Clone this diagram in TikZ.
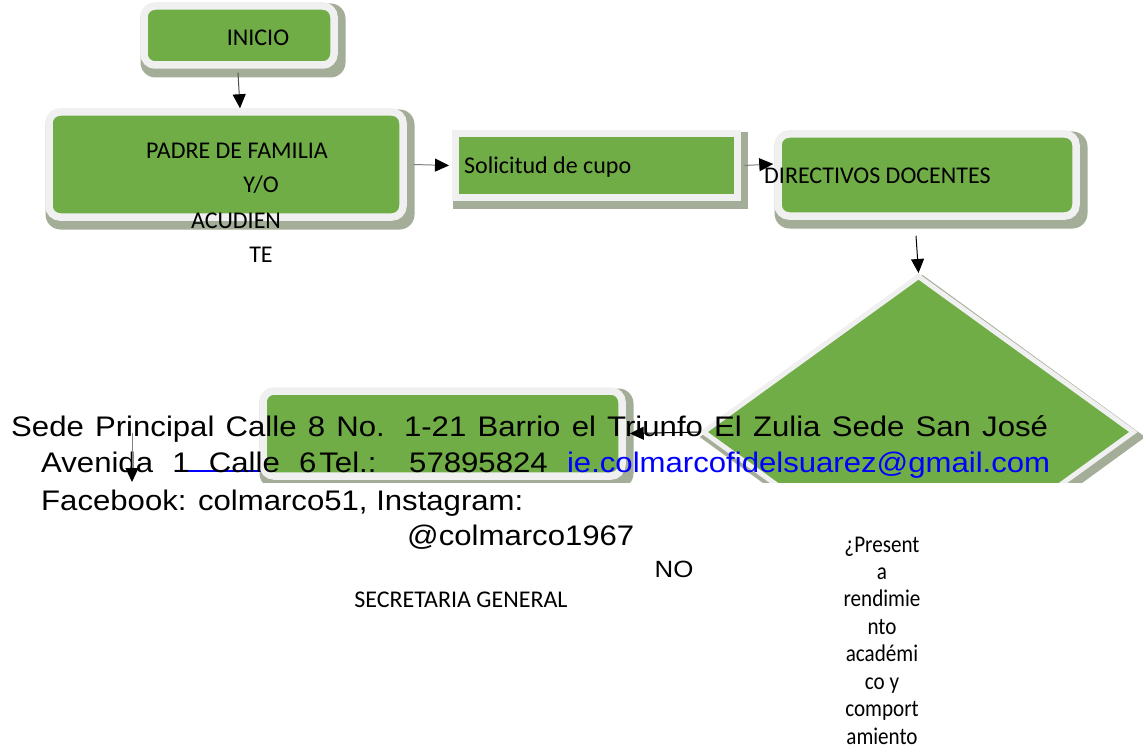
\documentclass[tikz,border=0pt]{standalone}
\usepackage{fontspec}
\setmainfont{Carlito}
\newfontfamily\addrfont[FakeStretch=1.1]{Liberation Sans}
\newfontfamily\colfont[FakeStretch=0.88]{Carlito}
\usetikzlibrary{arrows.meta,shapes.geometric,backgrounds}

\definecolor{boxgreen}{HTML}{70AD47}
\definecolor{framegray}{HTML}{F0F0F0}
\definecolor{shadowgray}{HTML}{A3AD98}
\definecolor{linkblue}{HTML}{0000FF}
\definecolor{linegray}{HTML}{808080}
\definecolor{darkline}{HTML}{505050}

\tikzset{
  roundbox/.style={rectangle, draw=framegray, fill=boxgreen, line width=7.5pt,
    rounded corners=11pt, inner sep=0pt},
  sharpbox/.style={rectangle, draw=framegray, fill=boxgreen, line width=7pt,
    line join=miter, inner sep=0pt},
  decision/.style={diamond, draw=framegray, fill=boxgreen, line width=5pt,
    line join=miter, inner sep=0pt},
  lbl/.style={font=\fontsize{24pt}{28pt}\selectfont, inner sep=0pt, anchor=base},
  addr/.style={font=\addrfont\fontsize{28.3pt}{34pt}\selectfont, inner sep=0pt, anchor=base west},
  tipblack/.style={-{Triangle[color=black,length=14pt,width=13pt]}},
  conn/.style={tipblack, draw=linegray, line width=1pt},
  darkconn/.style={tipblack, draw=darkline, line width=1pt},
  blackconn/.style={tipblack, draw=black, line width=1pt},
}

% drop shadow for a rounded frame box: outer edge shifted 4 right, 5 down
\newcommand\boxshade[2]{%
  \fill[shadowgray, rounded corners=#2]
    ([shift={(0.25pt,-8.75pt)}]#1.south west) rectangle
    ([shift={(7.75pt,-1.25pt)}]#1.north east);}

\begin{document}
\begin{tikzpicture}[x=1pt,y=-1pt]
\useasboundingbox (0,0) rectangle (1143,749);

% ---- process boxes ----
\node[roundbox, minimum width=190pt, minimum height=59pt] (inicio) at (239,35.5) {};
\node[roundbox, minimum width=354pt, minimum height=105pt] (padre) at (226,164.5) {};
\node[sharpbox, minimum width=281.5pt, minimum height=63pt] (sol) at (596.25,165.5) {};
\node[roundbox, minimum width=298pt, minimum height=82pt] (dir) at (927,175) {};

% link underline, partly hidden by the box
\coordinate (ul1) at (175,471);
\coordinate (ul2) at (263,471);
\draw[linkblue, line width=1.3pt] (ul1) -- (ul2);

\node[roundbox, minimum width=359pt, minimum height=85pt] (sec) at (442.5,433.5) {};

% decision diamond, cut off below
\begin{scope}
  \clip (0,0) rectangle (1143,482);
  \node[decision, minimum width=432pt, minimum height=313pt] (dia) at (918.5,432) {};
\end{scope}

% ---- shadows ----
\begin{scope}[on background layer]
  \boxshade{inicio}{15pt}
  \boxshade{padre}{15pt}
  \boxshade{dir}{15pt}
  \fill[shadowgray] ([shift={(0.5pt,-8.5pt)}]sol.south west) rectangle
                    ([shift={(7.5pt,-1.5pt)}]sol.north east);
  \begin{scope}
    \clip (0,0) rectangle (1143,482);
    \boxshade{sec}{15pt}
    \draw[shadowgray, fill=shadowgray, line width=5pt, line join=miter]
      ([shift={(4pt,-5pt)}]dia.north) -- ([shift={(4pt,-5pt)}]dia.east) --
      ([shift={(4pt,-5pt)}]dia.south) -- ([shift={(4pt,-5pt)}]dia.west) -- cycle;
  \end{scope}
\end{scope}

% ---- box texts ----
\node[lbl] (tinicio) at (258,46) {INICIO};
\node[lbl] (tpadre1) at (237,159) {PADRE DE FAMILIA};
\node[lbl] (tpadre2) at (261,192) {Y/O};
\node[lbl] (tpadre3) at (236,228) {ACUDIEN};
\node[lbl] (tpadre4) at (261,262) {TE};
\node[lbl, anchor=base west] (tsol) at (464,173) {Solicitud de cupo};
\node[lbl, anchor=base west] (tdir) at (764,183) {DIRECTIVOS DOCENTES};
\node[lbl] (tsec) at (461,607) {SECRETARIA GENERAL};
\node[lbl, font=\addrfont\fontsize{23.5pt}{28pt}\selectfont] (tno) at (674,577) {NO};
\foreach \t [count=\i] in {¿Present,a,rendimie,nto,académi,co y,comport,amiento}{
  \node[lbl, font=\colfont\fontsize{24pt}{28pt}\selectfont] (tdia\i) at (882,{552+27.43*(\i-1)}) {\t};
}

% ---- address block ----
\node[addr] (addr1) at (11,436)
  {\makebox[1037pt][s]{Sede Principal Calle 8 No. 1-21 Barrio el Triunfo El Zulia Sede San José}};
\node[addr] (addr2) at (41,472)
  {\makebox[1009pt][s]{Avenida 1 Calle 6\kern3pt Tel.: 57895824 \textcolor{linkblue}{ie.colmarcofidelsuarez@gmail.com}}};
\node[addr] (addr3) at (41,510) {Facebook: colmarco51, Instagram:};
\node[addr] (addr4) at (407,545) {@colmarco1967};

% ---- connectors ----
\draw[darkconn] ([shift={(-1pt,-4pt)}]inicio.south) -- ([xshift=14pt]padre.north);
\draw[conn] ([xshift=7pt]padre.east) -- ([xshift=-3pt]sol.west);
\draw[conn] ([xshift=4pt]sol.east) -- ([shift={(-1pt,11pt)}]dir.west);
\draw[blackconn] ([shift={(-11pt,-16pt)}]dir.south) -- (dia.north);
\draw[blackconn] (dia.west) -- ([xshift=4pt]sec.east);
\coordinate (la1) at (132,433);
\coordinate (la2) at (132,482);
\draw[conn] (la1) -- (la2);

\end{tikzpicture}
\end{document}
